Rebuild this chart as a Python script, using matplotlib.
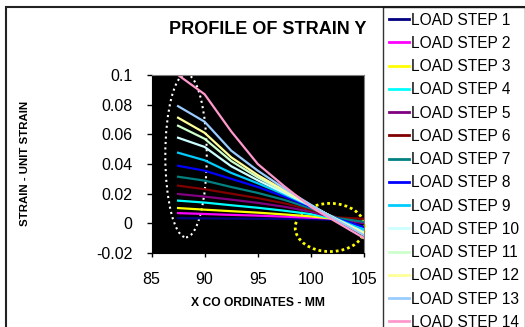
import matplotlib
matplotlib.use('Agg')
import matplotlib.pyplot as plt
from matplotlib.patches import Ellipse, Rectangle

plt.rcParams['font.family'] = ['Liberation Sans', 'DejaVu Sans']

# 数据：x 坐标与各载荷步的应变
x_mm = [87.5, 90, 92.5, 95, 97.5, 100, 102.5, 105]
step1 = [0.0035, 0.0033, 0.0032, 0.0031, 0.0030, 0.0028, 0.0022, -0.0025]
step2 = [0.0069, 0.0063, 0.0057, 0.0052, 0.0045, 0.0038, 0.0030, -0.0030]
step3 = [0.0103, 0.0092, 0.0082, 0.0072, 0.0060, 0.0047, 0.0028, -0.0035]
step4 = [0.0153, 0.0140, 0.0122, 0.0105, 0.0085, 0.0062, 0.0028, -0.0040]
step5 = [0.0198, 0.0180, 0.0160, 0.0138, 0.0112, 0.0078, 0.0030, 0.0000]
step6 = [0.0254, 0.0230, 0.0200, 0.0170, 0.0135, 0.0090, 0.0040, 0.0030]
step7 = [0.0314, 0.0288, 0.0245, 0.0205, 0.0158, 0.0100, 0.0035, 0.0010]
step8 = [0.0388, 0.0355, 0.0300, 0.0245, 0.0180, 0.0110, 0.0030, -0.0025]
step9 = [0.0476, 0.0425, 0.0340, 0.0270, 0.0195, 0.0115, 0.0028, -0.0045]
step10 = [0.0577, 0.0515, 0.0385, 0.0290, 0.0205, 0.0118, 0.0025, -0.0060]
step11 = [0.0658, 0.0570, 0.0420, 0.0310, 0.0215, 0.0120, 0.0024, -0.0065]
step12 = [0.0712, 0.0610, 0.0445, 0.0325, 0.0222, 0.0122, 0.0022, -0.0070]
step13 = [0.0790, 0.0685, 0.0490, 0.0355, 0.0235, 0.0125, 0.0020, -0.0080]
step14 = [0.1000, 0.0870, 0.0620, 0.0400, 0.0250, 0.0110, 0.0005, -0.0100]

series = [step1, step2, step3, step4, step5, step6, step7,
          step8, step9, step10, step11, step12, step13, step14]
labels = ['LOAD STEP %d' % (i + 1) for i in range(14)]
colors = ['#000080', '#FF00FF', '#FFFF00', '#00FFFF', '#800080', '#800000', '#008080',
          '#0000FF', '#00CCFF', '#CCFFFF', '#CCFFCC', '#FFFF99', '#99CCFF', '#FF99CC']

x_ticks = [85, 90, 95, 100, 105]
y_ticks = [-0.02, 0, 0.02, 0.04, 0.06, 0.08, 0.1]
y_ticklabels = ['-0.02', '0', '0.02', '0.04', '0.06', '0.08', '0.1']

# 标注椭圆（中心、宽、高，数据坐标）
white_ell = (88.25, 0.0456, 3.9, 0.110)
yellow_ell = (101.8, -0.0028, 6.55, 0.0325)

W, H = 525, 327
fig = plt.figure(figsize=(W / 100, H / 100), dpi=100)
ax = fig.add_axes([151.5 / W, 1 - 253 / H, (364 - 151.5) / W, (253 - 75) / H])
ax.set_facecolor('black')

for ys, c, lab in zip(series, colors, labels):
    ax.plot(x_mm, ys, color=c, lw=1.6, label=lab)

ex, ey, ew, eh = white_ell
ax.add_patch(Ellipse((ex, ey), ew, eh, fill=False, ec='white', lw=1.5,
                     ls=(0, (1, 1.6)), clip_on=False))
ex, ey, ew, eh = yellow_ell
ax.add_patch(Ellipse((ex, ey), ew, eh, fill=False, ec='yellow', lw=2,
                     ls=(0, (1, 1.1)), clip_on=False))

ax.set_xlim(85, 105)
ax.set_ylim(-0.02, 0.1)
ax.set_xticks(x_ticks)
ax.set_yticks(y_ticks)
ax.set_yticklabels(y_ticklabels)
ax.tick_params(axis='y', length=3.5, width=1, pad=10, labelsize=11.5)
ax.tick_params(axis='x', length=3, width=1, pad=11, labelsize=11.5)
for s in ['top', 'right']:
    ax.spines[s].set_color('#808080')
for s in ['left', 'bottom']:
    ax.spines[s].set_color('black')

fig.text(268 / W, 1 - 30 / H, 'PROFILE OF STRAIN Y', ha='center', va='center',
         fontsize=13, fontweight='bold')
fig.text(258 / W, 1 - 303 / H, 'X CO ORDINATES - MM', ha='center', va='center',
         fontsize=8.7, fontweight='bold')
fig.text(25 / W, 1 - 163 / H, 'STRAIN - UNIT STRAIN', ha='center', va='center',
         rotation=90, fontsize=8.2, fontweight='bold')

# 外框
fig.patches.append(Rectangle((6 / W, -0.1), 1.0, 1.1 - 7 / H, transform=fig.transFigure,
                             fill=False, ec='#222222', lw=1.5))

leg = fig.legend(loc='upper left', bbox_to_anchor=(383 / W, 1 - 7 / H),
                 bbox_transform=fig.transFigure, fontsize=11.2, frameon=True,
                 fancybox=False, edgecolor='black', borderaxespad=0,
                 borderpad=0.36, handlelength=1.3, handletextpad=0.15,
                 labelspacing=0.53)
leg.get_frame().set_linewidth(1)
for line in leg.get_lines():
    line.set_linewidth(2)

fig.savefig('out.png', dpi=100)
